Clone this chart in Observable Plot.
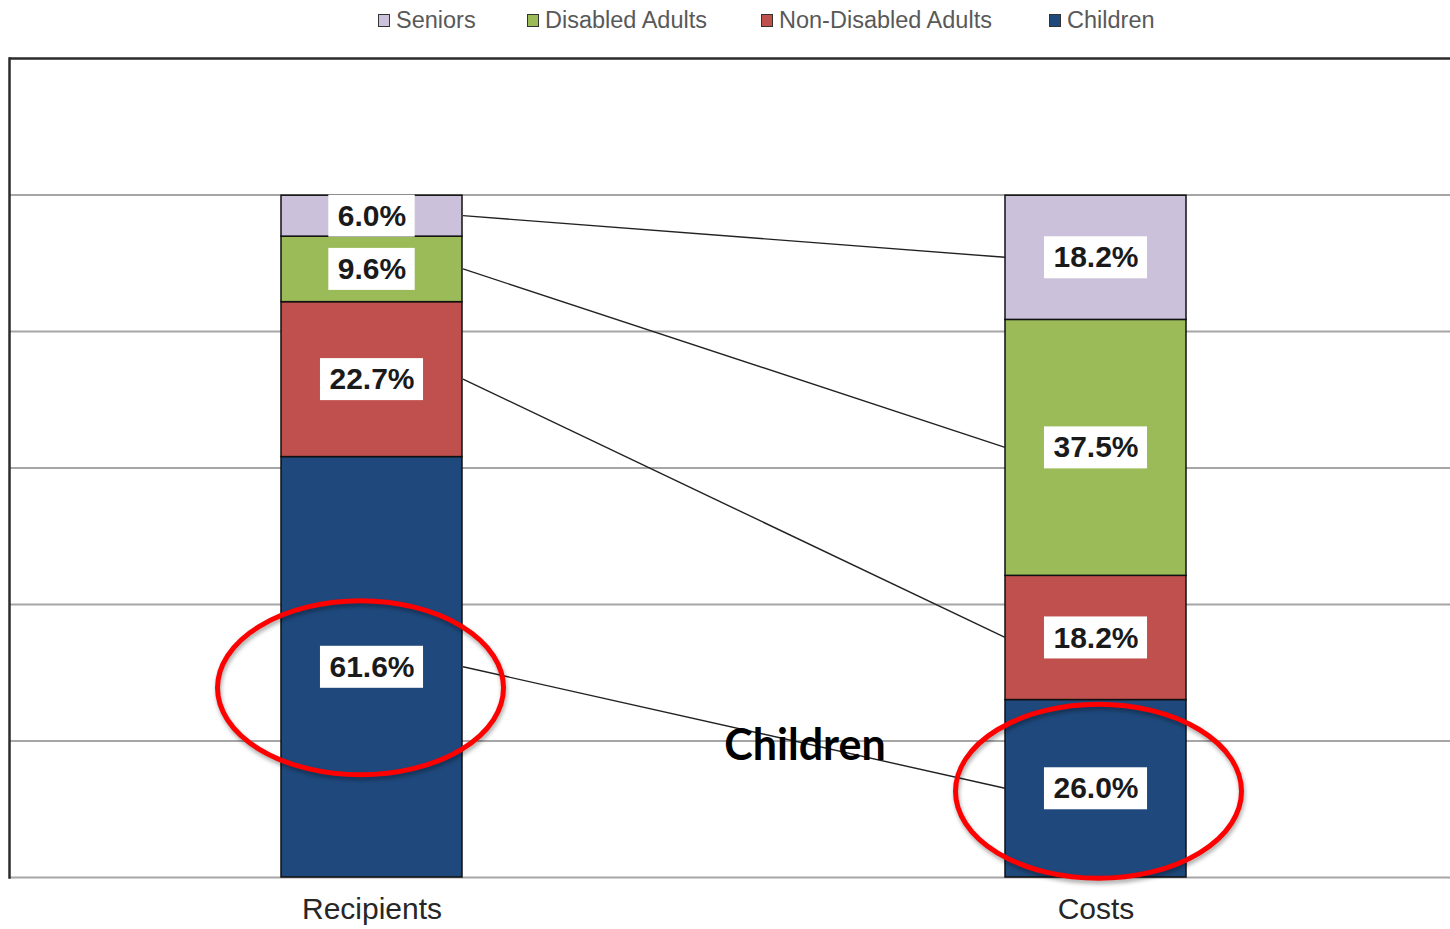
<!DOCTYPE html>
<html>
<head>
<meta charset="utf-8">
<script src="https://cdn.jsdelivr.net/npm/d3@7"></script>
<script src="https://cdn.jsdelivr.net/npm/@observablehq/plot@0.6"></script>
<style>
  html, body { margin: 0; padding: 0; background: #fff; }
  #wrap { width: 1450px; height: 929px; overflow: hidden; position: relative; }
  #legend { height: 45px; position: relative; font-family: "Liberation Sans", Arial, sans-serif; font-size: 23.5px; color: #595959; }
  .li { position: absolute; top: 7px; display: flex; align-items: center; white-space: nowrap; }
  .sw { width: 10px; height: 11px; border: 1.5px solid #333; margin-right: 6px; }
</style>
</head>
<body>
<div id="wrap">
  <div id="legend"></div>
  <div id="chart"></div>
</div>
<script>
// ---- data ----
const categories = ["Recipients", "Costs"];
const groups = ["Children", "Non-Disabled Adults", "Disabled Adults", "Seniors"];
const recipientsValues = [61.6, 22.7, 9.6, 6.0];
const costsValues = [26.0, 18.2, 37.5, 18.2];
const groupColors = ["#1f497d", "#c0504d", "#9bbb59", "#ccc1da"];
const legendOrder = ["Seniors", "Disabled Adults", "Non-Disabled Adults", "Children"];
const legendLeft = [378, 527, 761, 1049];
const yTicks = [0, 20, 40, 60, 80, 100];
const highlightGroup = "Children";
const annotation = [{text: "Children", cat: "Costs", y: 19.3}];

// ---- build table ----
const seriesByCat = {Recipients: recipientsValues, Costs: costsValues};
const rows = [];
for (const cat of categories) {
  let acc = 0;
  seriesByCat[cat].forEach((v, i) => {
    rows.push({cat, group: groups[i], value: v, y1: acc, y2: acc + v, mid: acc + v / 2, label: v.toFixed(1) + "%"});
    acc += v;
  });
}
const links = groups.map(g => ({
  group: g,
  from: rows.find(r => r.cat === "Recipients" && r.group === g).mid,
  to: rows.find(r => r.cat === "Costs" && r.group === g).mid
}));
const highlights = rows.filter(r => r.group === highlightGroup);
const ellipseOffsets = {Recipients: {dx: -11, dy: 21}, Costs: {dx: 3, dy: 3}};

const labelFontSize = 30;
const labelFont = "'Liberation Sans', Arial, sans-serif";

// ---- legend ----
const legend = document.getElementById("legend");
legendOrder.forEach((g, i) => {
  const d = document.createElement("div");
  d.className = "li";
  d.style.left = legendLeft[i] + "px";
  const sw = document.createElement("div");
  sw.className = "sw";
  sw.style.background = groupColors[groups.indexOf(g)];
  d.appendChild(sw);
  d.appendChild(document.createTextNode(g));
  legend.appendChild(d);
});

// ---- custom marks ----
function connectorMark(data) {
  return (index, scales) => {
    const bw = scales.x.bandwidth ? scales.x.bandwidth() : 0;
    const g = d3.create("svg:g").attr("aria-label", "connectors");
    const xa = scales.x("Recipients") + bw;
    const xb = scales.x("Costs");
    for (const d of data) {
      g.append("line")
        .attr("x1", xa + 1).attr("x2", xb)
        .attr("y1", scales.y(d.from)).attr("y2", scales.y(d.to))
        .attr("stroke", "#222").attr("stroke-width", 1.4);
    }
    return g.node();
  };
}
const measureCtx = document.createElement("canvas").getContext("2d");
function labelBoxMark(data) {
  return (index, scales) => {
    const bw = scales.x.bandwidth ? scales.x.bandwidth() : 0;
    measureCtx.font = `bold ${labelFontSize}px ${labelFont}`;
    const g = d3.create("svg:g").attr("aria-label", "label-boxes");
    for (const d of data) {
      const w = measureCtx.measureText(d.label).width + 18;
      const cx = scales.x(d.cat) + bw / 2;
      const cy = scales.y(d.mid);
      g.append("rect")
        .attr("x", cx - w / 2).attr("width", w)
        .attr("y", cy - 21).attr("height", 42)
        .attr("fill", "#fff");
    }
    return g.node();
  };
}
function ellipseMark(data) {
  return (index, scales) => {
    const bw = scales.x.bandwidth ? scales.x.bandwidth() : 0;
    const g = d3.create("svg:g").attr("aria-label", "highlight")
      .style("filter", "drop-shadow(1px 3px 2px rgba(0,0,0,0.35))");
    for (const d of data) {
      const o = ellipseOffsets[d.cat];
      g.append("ellipse")
        .attr("cx", scales.x(d.cat) + bw / 2 + o.dx)
        .attr("cy", scales.y(d.mid) + o.dy)
        .attr("rx", 143).attr("ry", 87)
        .attr("fill", "none").attr("stroke", "#ff0000").attr("stroke-width", 5);
    }
    return g.node();
  };
}

const plot = Plot.plot({
  width: 1450,
  height: 884,
  marginTop: 13,
  marginBottom: 52,
  marginLeft: 9,
  marginRight: 0,
  style: {background: "#fff", overflow: "visible"},
  x: {type: "band", domain: categories, range: [280, 1186], paddingInner: 0.75, paddingOuter: 0, align: 0.5, label: null},
  y: {domain: [0, 120], label: null},
  color: {domain: groups, range: groupColors},
  marks: [
    Plot.ruleY(yTicks, {stroke: "#a6a6a6", strokeWidth: 2}),
    Plot.ruleY([120], {stroke: "#2b2b2b", strokeWidth: 2.5}),
    Plot.frame({anchor: "left", stroke: "#2b2b2b", strokeWidth: 2.5}),
    Plot.rectY(rows, {x: "cat", y1: "y1", y2: "y2", fill: "group", stroke: "#111", strokeWidth: 1.5}),
    connectorMark(links),
    labelBoxMark(rows),
    Plot.text(rows, {x: "cat", y: "mid", text: "label", fontSize: labelFontSize, fontWeight: "bold",
      fontFamily: labelFont, fill: "#1a1a1a"}),
    Plot.text(annotation, {x: "cat", y: "y", text: "text", dx: -291, fontSize: 43, fontWeight: "bold",
      fontFamily: "Lato, 'Open Sans', sans-serif", fill: "#000"}),
    ellipseMark(highlights),
    Plot.axisX({tickSize: 0, tickPadding: 20, fontSize: 30, fontFamily: "'Liberation Sans', Arial, sans-serif", fill: "#262626", label: null}),
    Plot.axisY({ticks: [], label: null, tickSize: 0})
  ]
});
document.getElementById("chart").appendChild(plot);
</script>
</body>
</html>
